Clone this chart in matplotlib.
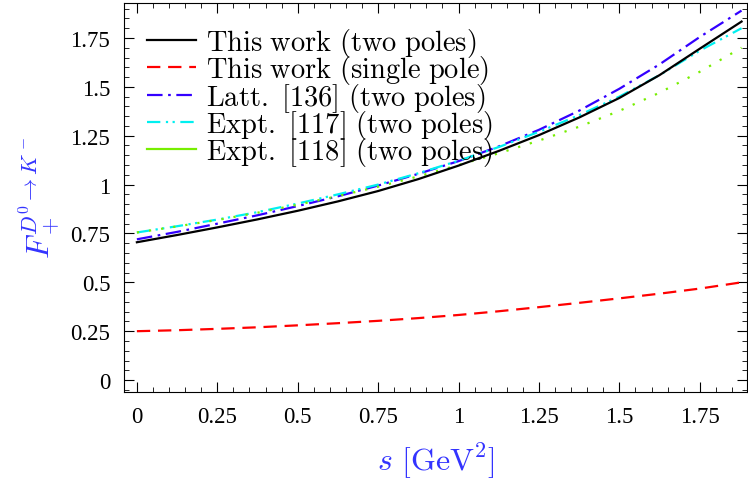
import numpy as np
import matplotlib
matplotlib.use("Agg")
import matplotlib.pyplot as plt
from matplotlib.lines import Line2D
from matplotlib.ticker import MultipleLocator

plt.rcParams['mathtext.fontset'] = 'cm'
plt.rcParams['font.family'] = 'Liberation Serif'

# values
s = [0, 0.125, 0.25, 0.375, 0.5, 0.625, 0.75, 0.875, 1.0,
     1.125, 1.25, 1.375, 1.5, 1.625, 1.75, 1.88]
f_two = [0.705, 0.742, 0.781, 0.822, 0.866, 0.914, 0.967, 1.028, 1.097,
         1.172, 1.253, 1.343, 1.443, 1.56, 1.695, 1.834]
f_single = [0.25, 0.255, 0.262, 0.27, 0.28, 0.291, 0.303, 0.317, 0.333,
            0.352, 0.373, 0.395, 0.418, 0.442, 0.468, 0.50]
f_latt = [0.72, 0.758, 0.80, 0.843, 0.89, 0.94, 0.995, 1.055, 1.12,
          1.195, 1.28, 1.378, 1.49, 1.615, 1.755, 1.89]
f_e117 = [0.755, 0.787, 0.821, 0.859, 0.903, 0.95, 1.0, 1.058, 1.122,
          1.192, 1.27, 1.355, 1.45, 1.56, 1.685, 1.80]
f_e118 = [0.755, 0.786, 0.819, 0.856, 0.897, 0.941, 0.989, 1.042, 1.10,
          1.16, 1.225, 1.296, 1.377, 1.47, 1.577, 1.70]

labels = ["This work (two poles)", "This work (single pole)", "Latt. [136] (two poles)",
          "Expt. [117] (two poles)", "Expt. [118] (two poles)"]

fig = plt.figure(figsize=(7.48, 4.85), dpi=100)
ax = fig.add_axes([0.1658, 0.1897, 0.8329, 0.8021])

lw = 1.6
st_red = (6, 3.5)
st_blue = (7, 2.5, 1.2, 2.5)
st_cyan = (6, 2.5, 1, 2, 1, 2.5)
ax.plot(s, f_two, color="black", lw=lw, zorder=5)
ax.plot(s, f_single, color="#ff0000", lw=lw, dashes=st_red)
ax.plot(s, f_latt, color="#3300ff", lw=lw, dashes=st_blue)
ax.plot(s, f_e117, color="#00f0f0", lw=lw, dashes=st_cyan)
ax.plot(s, f_e118, color="#77ee00", lw=lw, dashes=(1, 4.5))

# legend shows the last curve as a solid line, like the original
handles = [
    Line2D([], [], color="black", lw=lw),
    Line2D([], [], color="#ff0000", lw=lw, dashes=st_red),
    Line2D([], [], color="#3300ff", lw=lw, dashes=st_blue),
    Line2D([], [], color="#00f0f0", lw=lw, dashes=st_cyan),
    Line2D([], [], color="#77ee00", lw=lw),
]
leg_labels = [r"$\mathrm{" + t.replace(" ", r"\ ") + "}$" for t in labels]
ax.legend(handles, leg_labels, loc="upper left", frameon=False, fontsize=20.5,
          handlelength=1.75, handletextpad=0.35, labelspacing=-0.2,
          borderaxespad=0.0, bbox_to_anchor=(0.018, 0.97))

ax.set_xlim(-0.04, 1.897)
ax.set_ylim(-0.061, 1.929)
ticks = [0, 0.25, 0.5, 0.75, 1, 1.25, 1.5, 1.75]
tick_labels = ["0", "0.25", "0.5", "0.75", "1", "1.25", "1.5", "1.75"]
ax.set_xticks(ticks)
ax.set_xticklabels(tick_labels)
ax.set_yticks(ticks)
ax.set_yticklabels(tick_labels)
ax.xaxis.set_minor_locator(MultipleLocator(0.05))
ax.yaxis.set_minor_locator(MultipleLocator(0.05))
ax.tick_params(which="both", direction="in", top=True, right=True, labelsize=16.5)
ax.tick_params(which="major", length=7, width=0.8)
ax.tick_params(which="minor", length=3.5, width=0.6)
ax.tick_params(axis="x", pad=10)
ax.tick_params(axis="y", pad=10)

ax.set_xlabel(r"$s\ [\mathrm{GeV}^2]$", color="#3333ff", fontsize=23, labelpad=10)
ax.set_ylabel(r"$F_+^{D^0\to K^-}$", color="#3333ff", fontsize=23, labelpad=5)

fig.savefig("out.png", dpi=100)
